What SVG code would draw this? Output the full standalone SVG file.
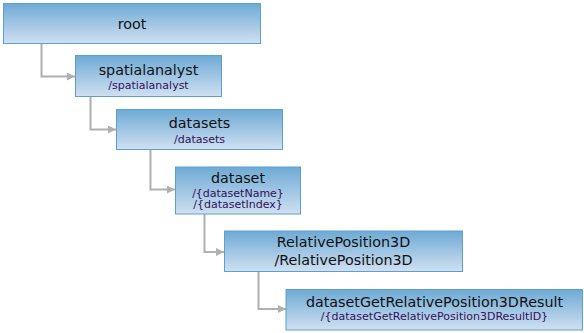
<svg xmlns="http://www.w3.org/2000/svg" width="584" height="333" viewBox="0 0 584 333">
<style>
.box{fill:url(#g);stroke:#5d9fcf;stroke-width:1}
.t{font-family:"DejaVu Sans",Verdana,sans-serif;font-size:14.3px;fill:#111;text-anchor:middle}
.s{font-family:"DejaVu Sans",Verdana,sans-serif;font-size:11px;fill:#33105a;text-anchor:middle}
.c{fill:none;stroke:#b0b0b0;stroke-width:2;marker-end:url(#a)}
</style>
<defs>
<linearGradient id="g" x1="0" y1="0" x2="0" y2="1">
<stop offset="0" stop-color="#6eaad5"/>
<stop offset="1" stop-color="#d0e0f1"/>
</linearGradient>
<marker id="a" viewBox="0 0 8 8" refX="8" refY="4" markerWidth="4" markerHeight="4" orient="auto" markerUnits="strokeWidth">
<path d="M0,0L8,4L0,8z" fill="#b0b0b0"/>
</marker>
</defs>
<g id="connectors">
<path class="c" d="M41.5,43.5V76.5H75"/>
<path class="c" d="M90.5,97V129.5H116"/>
<path class="c" d="M150.5,149.5V189.5H175"/>
<path class="c" d="M204.5,214V252H224"/>
<path class="c" d="M258.5,271.5V309H286"/>
</g>
<g id="root">
<rect class="box" x="3.5" y="3.5" width="257" height="40"/>
<text class="t" x="132" y="28.5">root</text>
</g>
<g id="spatialanalyst">
<rect class="box" x="75.5" y="55.5" width="146" height="41"/>
<text class="t" x="148.5" y="75">spatialanalyst</text>
<text class="s" x="148.5" y="89.3">/spatialanalyst</text>
</g>
<g id="datasets">
<rect class="box" x="116.5" y="109.5" width="166" height="40"/>
<text class="t" x="199.5" y="128.3">datasets</text>
<text class="s" x="199.5" y="142.7">/datasets</text>
</g>
<g id="dataset">
<rect class="box" x="175.5" y="167" width="125" height="47"/>
<text class="t" x="238" y="182.7">dataset</text>
<text class="s" x="238" y="196.7">/{datasetName}</text>
<text class="s" x="238" y="208.3">/{datasetIndex}</text>
</g>
<g id="RelativePosition3D">
<rect class="box" x="224.5" y="231" width="238" height="40.5"/>
<text class="t" x="343.5" y="247.3">RelativePosition3D</text>
<text class="t" x="343.5" y="265">/RelativePosition3D</text>
</g>
<g id="datasetGetRelativePosition3DResult">
<rect class="box" x="286" y="289.5" width="296.5" height="40.5"/>
<text class="t" x="434.5" y="306.7">datasetGetRelativePosition3DResult</text>
<text class="s" x="434.5" y="320">/{datasetGetRelativePosition3DResultID}</text>
</g>
</svg>
